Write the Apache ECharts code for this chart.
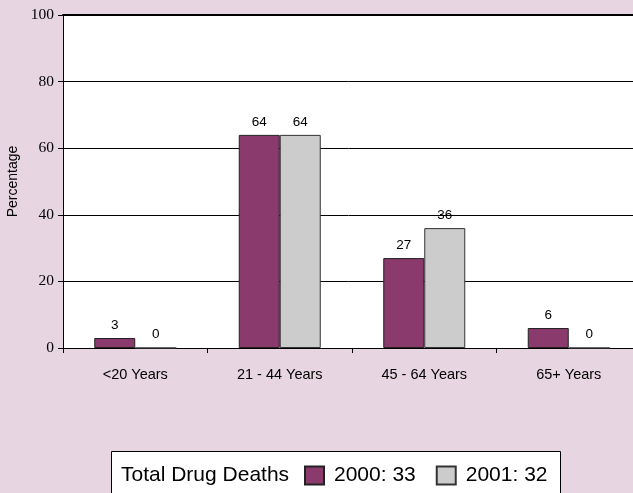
<!DOCTYPE html>
<html>
<head>
<meta charset="utf-8">
<title>Drug deaths by age group</title>
<script src="https://cdn.jsdelivr.net/npm/echarts@6/dist/echarts.min.js"></script>
<style>
  html, body { margin: 0; padding: 0; background: #E7D5E1; }
  #chart { width: 633px; height: 493px; }
</style>
</head>
<body>
<div id="chart"></div>
<script>
// Age groups and the share of drug deaths in each (percent)
const ageGroups = ['<20 Years', '21 - 44 Years', '45 - 64 Years', '65+ Years'];
const years = ['2000', '2001'];
const pct2000 = [3, 64, 27, 6];
const pct2001 = [0, 64, 36, 0];
const totalDeaths = [33, 32];
const yTicks = [0, 20, 40, 60, 80, 100];

const sans = '"Liberation Sans", Arial, sans-serif';
const serif = '"Liberation Serif", "Times New Roman", serif';

const chart = echarts.init(document.getElementById('chart'), null, { renderer: 'canvas' });

const barLabel = {
  show: true,
  position: 'top',
  distance: 6,
  color: '#000',
  fontFamily: sans,
  fontSize: 13.5
};

chart.setOption({
  backgroundColor: '#E7D5E1',
  animation: false,
  // plot area runs past the right edge of the page
  grid: {
    left: 63, top: 15, width: 578, height: 333,
    outerBoundsMode: 'none',
    containLabel: false,
    backgroundColor: '#fff', show: true, borderWidth: 0
  },
  legend: {
    left: 304,
    top: 465,
    padding: 0,
    data: years,
    itemWidth: 19,
    itemHeight: 18,
    itemGap: 20,
    icon: 'rect',
    formatter: name => name + ': ' + totalDeaths[years.indexOf(name)],
    textStyle: { fontFamily: sans, fontSize: 21, color: '#000', lineHeight: 18, padding: [0, 0, 0, 5] }
  },
  graphic: [
    {
      type: 'rect',
      left: 111, top: 451,
      shape: { width: 449, height: 60 },
      style: { fill: '#fff', stroke: '#000', lineWidth: 1 },
      z: -1
    },
    {
      type: 'text',
      x: 121, y: 475,
      style: { text: 'Total Drug Deaths', fontFamily: sans, fontSize: 21, fill: '#000', verticalAlign: 'middle' }
    }
  ],
  xAxis: [
    {
      type: 'category',
      data: ageGroups,
      axisLine: { lineStyle: { color: '#000', width: 1 } },
      axisTick: { show: true, length: 5, lineStyle: { color: '#000' } },
      axisLabel: { color: '#000', fontFamily: sans, fontSize: 14.5, margin: 19 }
    },
    {
      type: 'category',
      data: ageGroups,
      position: 'top',
      axisLine: { show: true, lineStyle: { color: '#000', width: 2 } },
      axisTick: { show: false },
      axisLabel: { show: false }
    }
  ],
  yAxis: {
    type: 'value',
    min: yTicks[0],
    max: yTicks[yTicks.length - 1],
    interval: yTicks[1] - yTicks[0],
    name: 'Percentage',
    nameLocation: 'middle',
    nameRotate: 90,
    nameGap: 43,
    nameTextStyle: { fontFamily: sans, fontSize: 14, color: '#000' },
    axisLine: { show: true, lineStyle: { color: '#000', width: 1 } },
    axisTick: { show: true, length: 5, lineStyle: { color: '#000' } },
    axisLabel: { color: '#000', fontFamily: serif, fontSize: 15.5, margin: 9 },
    splitLine: { show: true, lineStyle: { color: '#000', width: 1 } }
  },
  series: [
    {
      name: years[0],
      type: 'bar',
      data: pct2000,
      barWidth: 41,
      barGap: '0%',
      itemStyle: { color: '#8B3A6E', borderColor: '#222', borderWidth: 1 },
      label: barLabel
    },
    {
      name: years[1],
      type: 'bar',
      data: pct2001,
      barWidth: 41,
      barGap: '0%',
      itemStyle: { color: '#CCCCCC', borderColor: '#333', borderWidth: 1 },
      label: barLabel
    }
  ]
});
</script>
</body>
</html>
